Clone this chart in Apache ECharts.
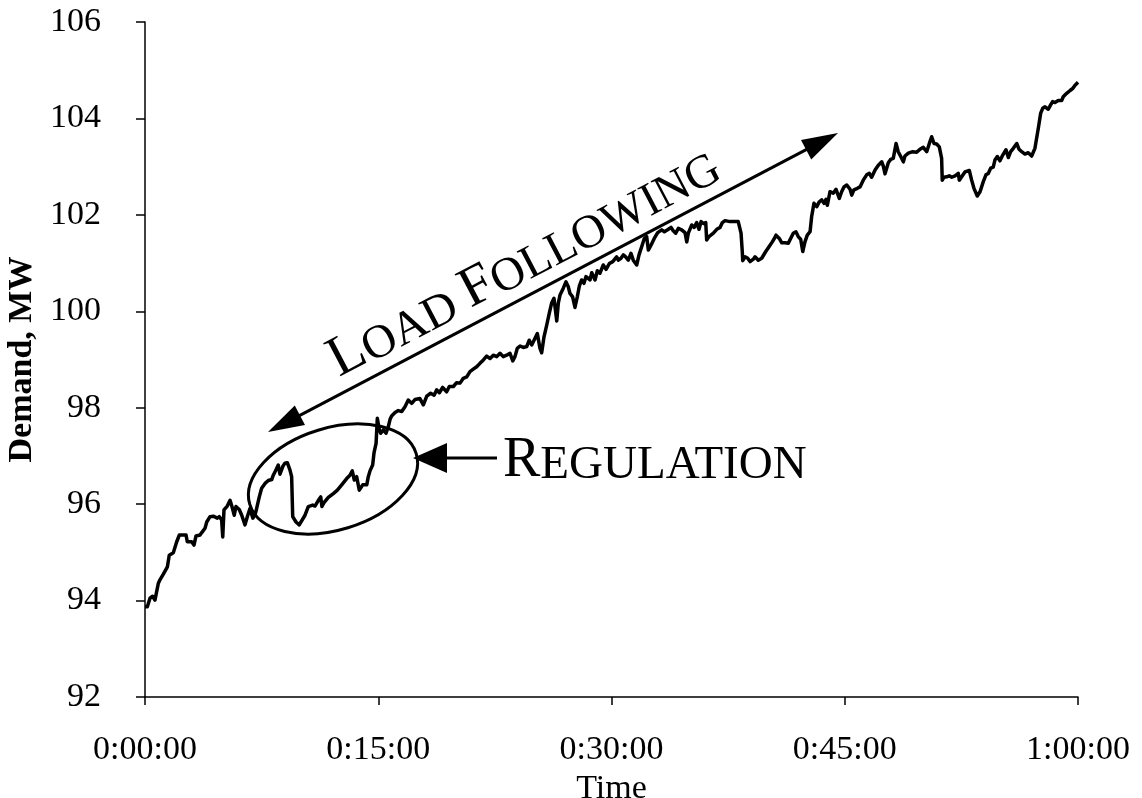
<!DOCTYPE html>
<html>
<head>
<meta charset="utf-8">
<script src="https://cdn.jsdelivr.net/npm/echarts@6/dist/echarts.min.js"></script>
<style>
html,body{margin:0;padding:0;background:#fff;}
#main{width:1142px;height:798px;}
</style>
</head>
<body>
<div id="main"></div>
<script>
// ---- data (time in minutes, demand in MW) ----
const timeMin = [
  0, 0.15, 0.32, 0.49, 0.64, 0.86, 0.96, 1.18, 1.44, 1.56, 1.82, 2.04, 2.21, 2.64, 2.72, 3.00, 3.15, 3.28, 3.54, 3.65,
  3.86, 3.97, 4.18, 4.39, 4.65, 4.78, 4.93, 5.00, 5.08, 5.29, 5.47, 5.61, 5.74, 5.85, 6.06, 6.22, 6.43, 6.58, 6.75, 6.93,
  7.07, 7.18, 7.35, 7.50, 7.72, 7.93, 8.15, 8.25, 8.42, 8.57, 8.68, 8.86, 9.00, 9.15, 9.32, 9.43, 9.50, 9.71, 9.92,
  10.29, 10.50, 10.78, 10.93, 11.15, 11.30, 11.38, 11.51, 11.79, 12.11, 12.37, 12.65, 12.97, 13.18, 13.33, 13.46, 13.61,
  13.78, 14.00, 14.26, 14.36, 14.47, 14.64, 14.73, 14.86, 14.94, 15.07, 15.16, 15.33, 15.50, 15.65, 15.76, 15.86, 16.08,
  16.29, 16.51, 16.72, 16.93, 17.15, 17.36, 17.68, 17.90, 18.12, 18.37, 18.59, 18.76, 18.93, 19.14, 19.40, 19.57, 19.83,
  20.04, 20.26,
  20.47, 20.69, 20.90, 21.11, 21.33, 21.54, 21.76, 21.97, 22.19, 22.40, 22.62, 22.83, 23.04, 23.26, 23.47, 23.65, 23.79,
  23.94, 24.12, 24.33, 24.55, 24.71, 24.87, 25.02, 25.23, 25.40, 25.51, 25.66, 25.83, 26.00, 26.15, 26.30, 26.48, 26.58,
  26.69, 26.90, 27.07, 27.22, 27.33, 27.50, 27.65, 27.80, 27.93, 28.08, 28.23, 28.36, 28.62, 28.73, 28.94, 29.09, 29.26,
  29.47, 29.65, 29.86, 30.08, 30.33,
  30.44, 30.61, 30.76, 30.91, 31.08, 31.25, 31.40, 31.62, 31.77, 31.94, 32.11, 32.26, 32.37, 32.54, 32.75, 32.97, 33.23,
  33.40, 33.61, 33.83, 33.97, 34.13, 34.30, 34.51, 34.73, 34.84, 34.94, 35.16, 35.32, 35.48, 35.63, 35.76, 35.90, 36.06,
  36.12, 36.27, 36.55, 36.77, 36.98, 37.13, 37.30, 37.62, 37.94, 38.15, 38.33, 38.41, 38.44, 38.59, 38.76, 38.91, 39.12,
  39.23, 39.44, 39.66, 39.92, 40.13, 40.34, 40.51,
  40.58, 40.79, 40.95, 41.16, 41.37, 41.52, 41.69, 41.86, 42.01, 42.17, 42.30, 42.44, 42.59, 42.77, 42.87, 43.02, 43.20,
  43.36, 43.52, 43.67, 43.79, 43.88, 44.05, 44.26, 44.44, 44.65, 44.80, 44.95, 45.13, 45.34, 45.45, 45.59, 45.81, 45.98,
  46.09, 46.19, 46.41, 46.58, 46.73, 46.95, 47.16, 47.38, 47.48, 47.59, 47.80, 47.95, 48.12, 48.30, 48.44, 48.60, 48.77,
  48.87, 49.09, 49.37, 49.63, 49.84, 50.05, 50.27,
  50.48, 50.59, 50.74, 50.91, 51.08, 51.23, 51.27, 51.38, 51.56, 51.72, 51.88, 52.09, 52.30, 52.37, 52.52, 52.73, 53.01,
  53.16, 53.31, 53.52, 53.70, 53.91, 54.08, 54.23, 54.39, 54.55, 54.66, 54.81, 54.98, 55.16, 55.37, 55.52, 55.67, 55.84,
  56.06, 56.21, 56.38, 56.59, 56.80, 57.02, 57.23, 57.45, 57.60, 57.73, 57.88, 58.09, 58.24, 58.37, 58.52, 58.73, 58.95,
  59.05, 59.27, 59.49, 59.66, 59.81, 59.92, 60.00
];
const demandMW = [
  93.87, 93.87, 94.05, 94.09, 94.01, 94.36, 94.43, 94.55, 94.70, 94.94, 94.99, 95.22, 95.36, 95.36, 95.22, 95.22, 95.15, 95.34, 95.36, 95.41,
  95.50, 95.63, 95.74, 95.75, 95.71, 95.74, 95.67, 95.32, 95.88, 95.96, 96.08, 95.93, 95.77, 95.95, 95.89, 95.77, 95.57, 95.74, 95.91, 95.71,
  95.77, 95.91, 96.15, 96.33, 96.43, 96.49, 96.51, 96.60, 96.71, 96.81, 96.62, 96.78, 96.85, 96.86, 96.71, 96.57, 95.74, 95.63, 95.57,
  95.77, 95.95, 95.98, 95.96, 96.08, 96.15, 95.95, 96.03, 96.14, 96.22, 96.29, 96.40, 96.53, 96.60, 96.69, 96.50, 96.57,
  96.29, 96.40, 96.40, 96.57, 96.69, 96.81, 97.07, 97.26, 97.78, 97.54, 97.47, 97.54, 97.47, 97.61, 97.76, 97.83, 97.90,
  97.94, 97.92, 98.02, 98.16, 98.09, 98.17, 98.19, 98.06, 98.24, 98.30, 98.26, 98.37, 98.31, 98.42, 98.33, 98.44, 98.44,
  98.52, 98.51,
  98.61, 98.64, 98.75, 98.80, 98.85, 98.92, 98.99, 99.07, 99.02, 99.09, 99.06, 99.13, 99.06, 99.09, 99.13, 98.97, 99.06,
  99.23, 99.28, 99.25, 99.27, 99.40, 99.30, 99.40, 99.54, 99.23, 99.14, 99.47, 99.71, 99.96, 100.17, 100.27, 99.80, 100.17,
  100.34, 100.48, 100.61, 100.51, 100.37, 100.30, 100.08, 100.30, 100.52, 100.65, 100.58, 100.72, 100.65, 100.80, 100.65, 100.84, 100.79,
  100.96, 100.87, 100.99, 101.03, 101.13,
  101.06, 101.10, 101.17, 101.13, 101.06, 101.20, 101.06, 100.96, 101.17, 101.34, 101.51, 101.55, 101.27, 101.37, 101.51, 101.63, 101.69,
  101.65, 101.69, 101.74, 101.67, 101.62, 101.72, 101.69, 101.63, 101.44, 101.62, 101.79, 101.74, 101.84, 101.70, 101.86, 101.82, 101.84,
  101.48, 101.55, 101.62, 101.70, 101.74, 101.84, 101.88, 101.86, 101.86, 101.86, 101.62, 101.24, 101.05, 101.13, 101.10, 101.03, 101.08,
  101.13, 101.06, 101.10, 101.24, 101.34, 101.44, 101.53,
  101.58, 101.51, 101.42, 101.42, 101.41, 101.51, 101.62, 101.65, 101.55, 101.49, 101.24, 101.44, 101.58, 101.65, 101.96, 102.24, 102.17,
  102.27, 102.31, 102.24, 102.32, 102.20, 102.48, 102.45, 102.53, 102.34, 102.48, 102.58, 102.62, 102.53, 102.41, 102.52, 102.55, 102.58,
  102.62, 102.72, 102.83, 102.86, 102.78, 102.93, 103.03, 103.10, 103.01, 102.85, 103.08, 103.15, 103.17, 103.48, 103.31, 103.21, 103.10,
  103.22, 103.28, 103.31, 103.30, 103.36, 103.40, 103.31,
  103.52, 103.62, 103.48, 103.47, 103.41, 103.17, 102.72, 102.78, 102.79, 102.81, 102.78, 102.81, 102.86, 102.72, 102.79, 102.89, 102.92,
  102.72, 102.55, 102.39, 102.48, 102.69, 102.83, 102.86, 102.97, 102.99, 103.14, 103.21, 103.12, 103.24, 103.35, 103.19, 103.31, 103.38,
  103.48, 103.36, 103.31, 103.26, 103.29, 103.22, 103.38, 103.80, 104.11, 104.21, 104.24, 104.19, 104.28, 104.35, 104.33, 104.37, 104.37,
  104.45, 104.52, 104.58, 104.62, 104.69, 104.71, 104.75
];
const xTickLabels = ['0:00:00', '0:15:00', '0:30:00', '0:45:00', '1:00:00'];
const xTickStepMin = 15;
const yMin = 92, yMax = 106, yStep = 2;
const xTitle = 'Time';
const yTitle = 'Demand, MW';

// ---- chart ----
const FONT = '"Liberation Serif", "Times New Roman", serif';
const chart = echarts.init(document.getElementById('main'), null, {renderer: 'canvas'});

function headPoints(tipX, tipY, dirX, dirY, len, halfW) {
  const n = Math.hypot(dirX, dirY); const ux = dirX / n, uy = dirY / n;
  const bx = tipX - ux * len, by = tipY - uy * len;
  return [[tipX, tipY], [bx - uy * halfW, by + ux * halfW], [bx + uy * halfW, by - ux * halfW]];
}

// annotation geometry (pixels)
const A1 = [268, 432], A2 = [838, 133];
const dx = A2[0] - A1[0], dy = A2[1] - A1[1];
const L = Math.hypot(dx, dy), ux = dx / L, uy = dy / L;
const headLen = 36, headHalf = 11;
const ang = Math.atan2(-dy, dx);

const option = {
  animation: false,
  backgroundColor: '#ffffff',
  grid: {left: 145, right: 64, top: 22, bottom: 101, containLabel: false, outerBoundsMode: 'none'},
  xAxis: {
    type: 'value', min: 0, max: 60, interval: xTickStepMin,
    name: xTitle, nameLocation: 'middle', nameGap: 62,
    nameTextStyle: {fontFamily: FONT, fontSize: 34, color: '#000'},
    axisLine: {show: true, onZero: false, lineStyle: {color: '#000', width: 1.5}},
    axisTick: {show: true, length: 8, lineStyle: {color: '#000', width: 1.5}},
    axisLabel: {margin: 36, fontFamily: FONT, fontSize: 34, color: '#000',
      formatter: v => xTickLabels[Math.round(v / xTickStepMin)] || ''},
    splitLine: {show: false}
  },
  yAxis: {
    type: 'value', min: yMin, max: yMax, interval: yStep,
    name: yTitle, nameLocation: 'middle', nameRotate: 90, nameGap: 105,
    nameTextStyle: {fontFamily: FONT, fontSize: 34, fontWeight: 'bold', color: '#000'},
    axisLine: {show: true, lineStyle: {color: '#000', width: 1.5}},
    axisTick: {show: true, length: 9, lineStyle: {color: '#000', width: 1.5}},
    axisLabel: {margin: 44, fontFamily: FONT, fontSize: 34, color: '#000'},
    splitLine: {show: false}
  },
  series: [{
    type: 'line',
    data: timeMin.map((t, i) => [t, demandMW[i]]),
    showSymbol: false, symbol: 'none',
    lineStyle: {color: '#000', width: 3.5, join: 'round'},
    z: 3
  }],
  graphic: [
    // Load following double arrow
    {type: 'line', z: 10, shape: {x1: A1[0] + ux * 30, y1: A1[1] + uy * 30, x2: A2[0] - ux * 30, y2: A2[1] - uy * 30},
      style: {stroke: '#000', lineWidth: 3}},
    {type: 'polygon', z: 10, shape: {points: headPoints(A1[0], A1[1], -dx, -dy, headLen, headHalf)}, style: {fill: '#000'}},
    {type: 'polygon', z: 10, shape: {points: headPoints(A2[0], A2[1], dx, dy, headLen, headHalf)}, style: {fill: '#000'}},
    {type: 'text', z: 10, x: 524, y: 263, rotation: ang,
      style: {text: '{b|L}{s|OAD }{b|F}{s|OLLOWING}', align: 'center', verticalAlign: 'middle',
        rich: {b: {fontFamily: FONT, fontSize: 57, fill: '#000', verticalAlign: 'bottom'},
               s: {fontFamily: FONT, fontSize: 47, fill: '#000', verticalAlign: 'bottom'}}}},
    // Regulation ellipse
    {type: 'ellipse', z: 10, x: 333, y: 479, rotation: 17 * Math.PI / 180,
      shape: {cx: 0, cy: 0, rx: 87, ry: 51}, style: {fill: 'none', stroke: '#000', lineWidth: 3}},
    // Regulation arrow
    {type: 'line', z: 10, shape: {x1: 440, y1: 458, x2: 497, y2: 458}, style: {stroke: '#000', lineWidth: 3}},
    {type: 'polygon', z: 10, shape: {points: headPoints(413, 458, -1, 0, 34, 15)}, style: {fill: '#000'}},
    {type: 'text', z: 10, x: 503, y: 461,
      style: {text: '{b|R}{s|EGULATION}', align: 'left', verticalAlign: 'middle',
        rich: {b: {fontFamily: FONT, fontSize: 56, fill: '#000', verticalAlign: 'bottom'},
               s: {fontFamily: FONT, fontSize: 47, fill: '#000', verticalAlign: 'bottom'}}}}
  ]
};
chart.setOption(option);
</script>
</body>
</html>
